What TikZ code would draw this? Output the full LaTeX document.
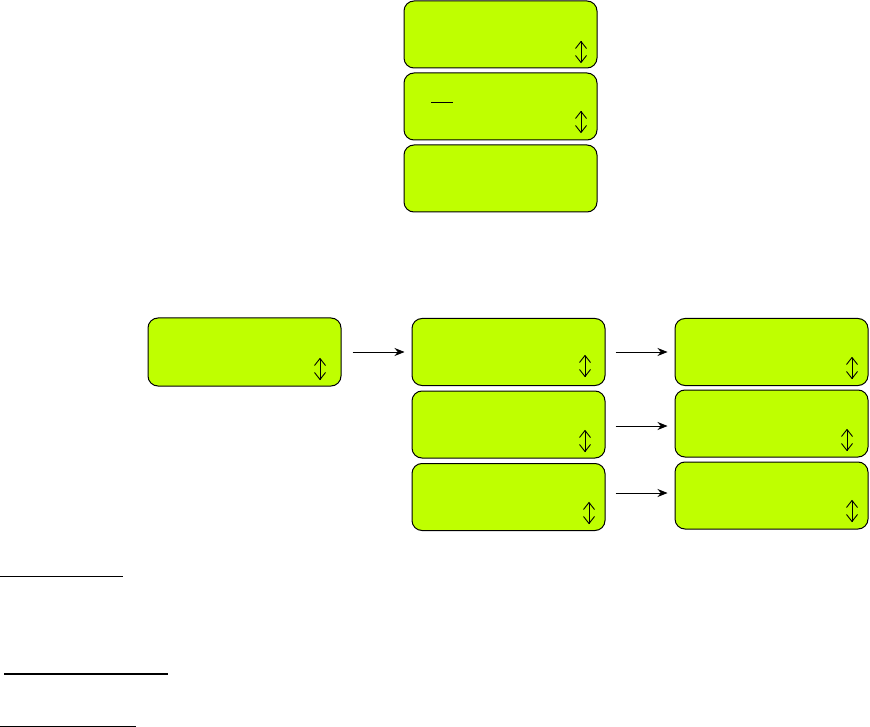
\documentclass[tikz,border=0pt]{standalone}
\usetikzlibrary{arrows.meta}
\definecolor{lcdgreen}{RGB}{191,255,0}
\tikzset{
  screen/.style={draw, line width=1pt, fill=lcdgreen, rounded corners=10pt,
    minimum width=193pt, minimum height=67pt, inner sep=0pt},
  flow/.style={line width=0.9pt, -{Stealth[length=10pt,width=8pt]}},
  scrollmark/.style={line width=0.9pt}
}
\begin{document}
\begin{tikzpicture}[x=1pt, y=-1pt]
  \useasboundingbox (0,0) rectangle (870,727);

  % Columna superior de pantallas
  \node[screen] (top1) at (500.5,34.5) {};
  \node[screen] (top2) at (500.5,106.5) {};
  \node[screen] (top3) at (500.5,178.5) {};
  \draw[line width=1pt] (431,103) -- (453,103);

  % Pantalla inicial y menus
  \node[screen, minimum height=68pt] (start) at (244.5,352) {};
  \node[screen] (menuA) at (508.5,352) {};
  \node[screen] (menuB) at (508.5,424.5) {};
  \node[screen] (menuC) at (508.5,497) {};
  \node[screen] (subA) at (771.5,352) {};
  \node[screen] (subB) at (771.5,423.5) {};
  \node[screen] (subC) at (771.5,495.5) {};

  % Flechas entre pantallas
  \draw[flow, shorten <=11pt, shorten >=7pt] (start.east) -- (start.east -| menuA.west);
  \draw[flow, shorten <=10pt, shorten >=7pt] (menuA.east) -- (menuA.east -| subA.west);
  \draw[flow, shorten <=10pt, shorten >=7pt] ([yshift=-1.5pt]menuB.east) -- ([yshift=-1.5pt]menuB.east -| subB.west);
  \draw[flow, shorten <=10pt, shorten >=7pt] ([yshift=4pt]menuC.east) -- ([yshift=4pt]menuC.east -| subC.west);

  % Indicadores de desplazamiento
  \foreach \x/\y in {581/52, 581/122, 320/369, 585/366, 585/441, 589/513, 852/368, 847/440, 852/511} {
    \draw[scrollmark] (\x,\y-10.5) -- (\x,\y+10.5);
    \draw[scrollmark] (\x-5.5,\y-3.5) -- (\x,\y-10.5) -- (\x+5.5,\y-3.5);
    \draw[scrollmark] (\x-5.5,\y+3.5) -- (\x,\y+10.5) -- (\x+5.5,\y+3.5);
  }

  % Lineas de subrayado inferiores
  \draw[line width=0.8pt] (0,576) -- (123,576);
  \draw[line width=1.8pt] (4,674) -- (168,674);
  \draw[line width=0.8pt] (0,726) -- (136,726);
\end{tikzpicture}
\end{document}
